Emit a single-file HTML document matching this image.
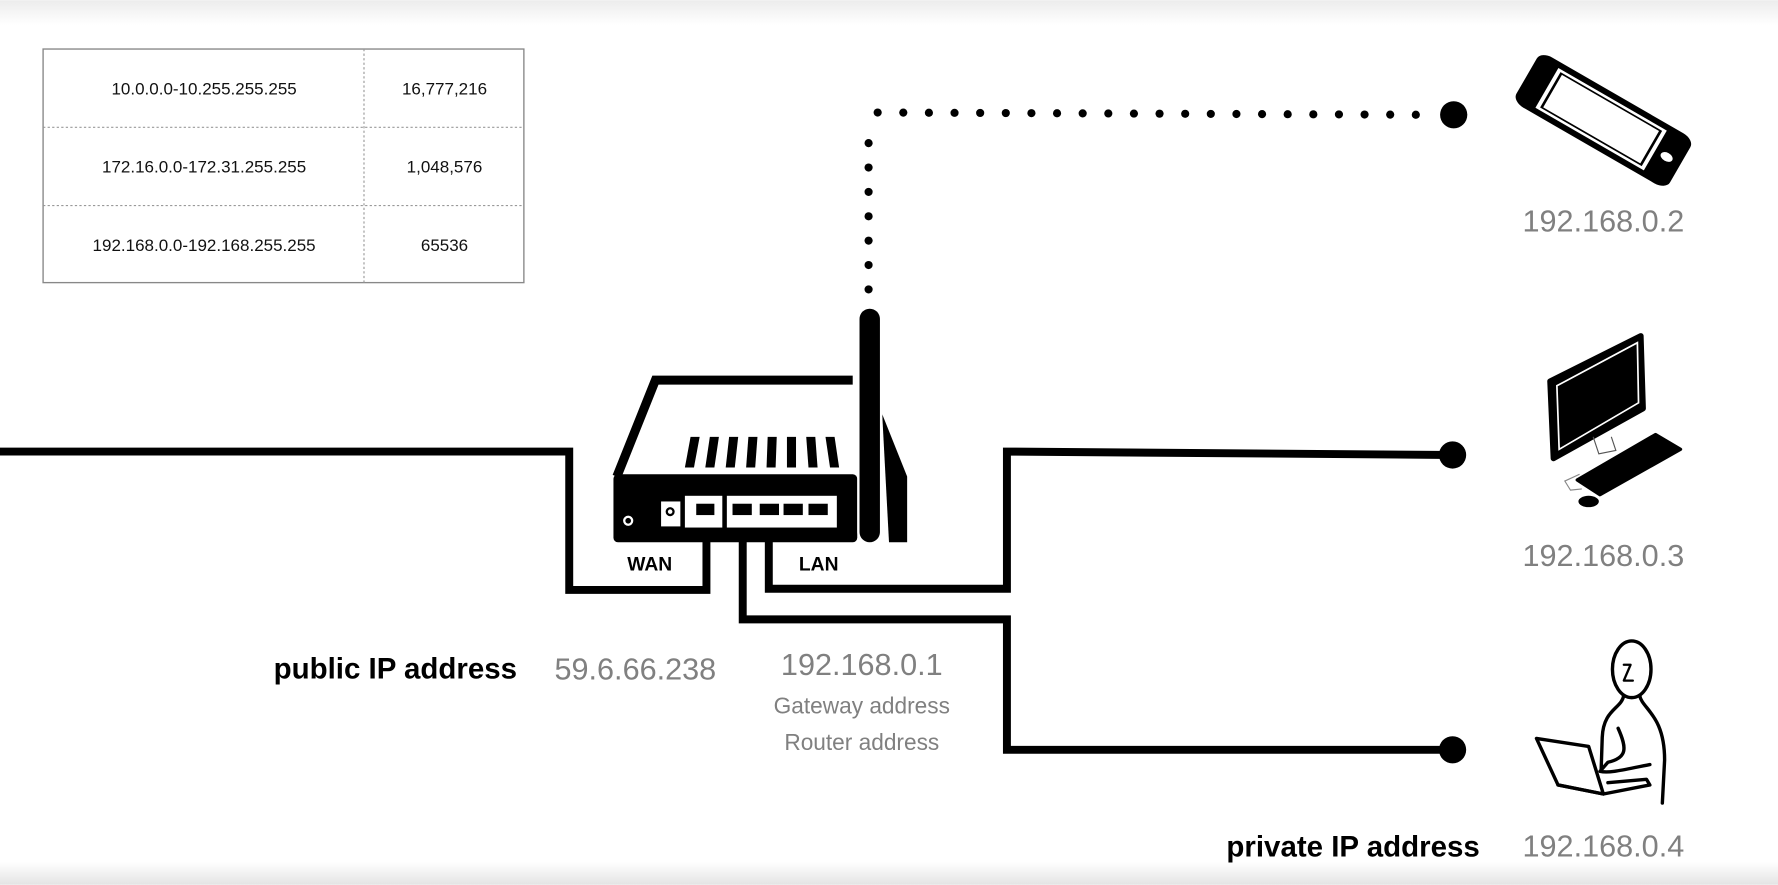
<!DOCTYPE html>
<html><head><meta charset="utf-8"><style>
html,body{margin:0;padding:0;background:#fff}
svg{display:block}
text{font-family:"Liberation Sans",sans-serif}
.ip{fill:#808080;font-size:27px}
</style></head><body>
<svg width="1778" height="885" viewBox="0 0 1568 780" xmlns="http://www.w3.org/2000/svg">
<defs>
<linearGradient id="tg" x1="0" y1="0" x2="0" y2="1"><stop offset="0" stop-color="#ececec"/><stop offset="1" stop-color="#fff"/></linearGradient>
<linearGradient id="bg" x1="0" y1="0" x2="0" y2="1"><stop offset="0" stop-color="#fff"/><stop offset="1" stop-color="#e4e4e4"/></linearGradient>
</defs>
<rect width="1568" height="780" fill="#fff"/>
<rect width="1568" height="22" fill="url(#tg)"/>
<rect y="760" width="1568" height="20" fill="url(#bg)"/>

<g>
<rect x="38" y="43" width="424" height="206" fill="#fff" stroke="#888" stroke-width="1.2"/>
<line x1="321" y1="43" x2="321" y2="249" stroke="#999" stroke-dasharray="2,2"/>
<line x1="38" y1="112" x2="462" y2="112" stroke="#999" stroke-dasharray="2,2"/>
<line x1="38" y1="181" x2="462" y2="181" stroke="#999" stroke-dasharray="2,2"/>
<g font-size="15" fill="#111" text-anchor="middle">
<text x="180" y="83">10.0.0.0-10.255.255.255</text><text x="392" y="83">16,777,216</text>
<text x="180" y="152">172.16.0.0-172.31.255.255</text><text x="392" y="152">1,048,576</text>
<text x="180" y="221">192.168.0.0-192.168.255.255</text><text x="392" y="221">65536</text>
</g></g>

<g fill="#000">
<script>
var g=document.currentScript.parentNode,ns="http://www.w3.org/2000/svg";
for(var y=255;y>=105;y-=21.5){var c=document.createElementNS(ns,"circle");c.setAttribute("cx",766);c.setAttribute("cy",y);c.setAttribute("r",3.6);g.appendChild(c);}
for(var x=774;x<=1260;x+=22.6){var c=document.createElementNS(ns,"circle");c.setAttribute("cx",x);c.setAttribute("cy",99+(x-774)/486*2);c.setAttribute("r",3.6);g.appendChild(c);}
</script>
<circle cx="1282" cy="101" r="12"/>
</g>

<g fill="none" stroke="#000" stroke-width="7" stroke-linejoin="miter">
<polyline points="0,398 502,398 502,520 623,520 623,455"/>
<polyline points="678,455 678,519 888,519 888,398 1280,401"/>
<polyline points="655,455 655,546 888,546 888,661 1280,661"/>
</g>
<circle cx="1281" cy="401" r="12"/>
<circle cx="1281" cy="661" r="12"/>

<g>
<path d="M752,335 L578,335 L544,420" fill="none" stroke="#000" stroke-width="8"/>
<path d="M778,365 L800,420 L800,478 L784,478 Z" fill="#000"/>
<rect x="541" y="418" width="215" height="60" rx="4" fill="#000"/>
<g fill="#000">
<polygon points="609,385 617,385 612,412 604,412"/><polygon points="626,385 634,385 630,412 622,412"/>
<polygon points="643,385 651,385 648,412 640,412"/><polygon points="660,385 668,385 666,412 658,412"/>
<polygon points="677,385 685,385 684,412 676,412"/><polygon points="694,385 702,385 702,412 694,412"/>
<polygon points="711,385 719,385 721,412 713,412"/><polygon points="728,385 736,385 740,412 732,412"/>
</g>
<circle cx="554" cy="459" r="3.5" fill="none" stroke="#fff" stroke-width="2"/>
<rect x="583" y="442" width="17" height="22" fill="#fff"/><circle cx="591" cy="451" r="3" fill="none" stroke="#000" stroke-width="2"/>
<rect x="604" y="437" width="33" height="28" fill="#fff"/>
<rect x="641" y="437" width="97" height="28" fill="#fff"/>
<g fill="#000"><rect x="614" y="444" width="16" height="10"/><rect x="646" y="444" width="17" height="10"/><rect x="670" y="444" width="17" height="10"/><rect x="691" y="444" width="17" height="10"/><rect x="713" y="444" width="17" height="10"/></g>
<rect x="756" y="270" width="22" height="210" rx="11" fill="#fff"/>
<rect x="758" y="272" width="18" height="206" rx="9" fill="#000"/>
<text x="573" y="503" font-size="17" font-weight="bold" text-anchor="middle">WAN</text>
<text x="722" y="503" font-size="17" font-weight="bold" text-anchor="middle">LAN</text>
</g>

<g transform="translate(1414,106) rotate(-60) scale(0.75,1.15)">
<rect x="-34" y="-68" width="68" height="136" rx="10" fill="#000"/>
<rect x="-27" y="-50" width="54" height="96" fill="#fff"/>
<rect x="-23" y="-46" width="46" height="88" fill="#fff" stroke="#000" stroke-width="2"/>
<circle cx="0" cy="56" r="5" fill="#fff"/>
</g>

<g>
<polygon points="1367,336 1447,296 1449,360 1370,404" fill="#000" stroke="#000" stroke-width="5" stroke-linejoin="round"/>
<polygon points="1373,340 1444,302 1445,355 1375,396" fill="#000" stroke="#fff" stroke-width="1.5"/>
<path d="M1405,385 L1410,400 L1425,397 L1421,385" fill="none" stroke="#555" stroke-width="1"/>
<polygon points="1391,423 1460,383 1482,396 1411,436" fill="#000" stroke="#000" stroke-width="3" stroke-linejoin="round"/>
<ellipse cx="1401" cy="442" rx="9" ry="5" fill="#000"/>
<path d="M1393,418 L1380,424 L1385,432 L1395,431" fill="none" stroke="#888" stroke-width="1"/>
</g>

<g fill="none" stroke="#000" stroke-width="3" stroke-linecap="round" stroke-linejoin="round">
<ellipse cx="1439" cy="590" rx="17" ry="25"/>
<path d="M1432,586 L1438,586 L1432,600 L1440,600" stroke-width="2"/>
<path d="M1432,613 C1430,625 1414,625 1413,650 L1412,680"/>
<path d="M1446,613 C1448,625 1468,630 1468,670 L1466,708"/>
<path d="M1427,642 C1435,660 1435,668 1418,672 L1411,680 C1420,682 1434,678 1455,674"/>
<polygon points="1355,651 1401,658 1414,700 1374,692"/>
<path d="M1374,692 L1414,700 L1455,692 L1452,687 L1418,690"/>
</g>

<g>
<text x="1414" y="204" class="ip" text-anchor="middle">192.168.0.2</text>
<text x="1414" y="499" class="ip" text-anchor="middle">192.168.0.3</text>
<text x="1414" y="755" class="ip" text-anchor="middle">192.168.0.4</text>
<text x="456" y="598" font-size="26" font-weight="bold" text-anchor="end">public IP address</text>
<text x="489" y="599" class="ip">59.6.66.238</text>
<text x="760" y="595" class="ip" text-anchor="middle">192.168.0.1</text>
<text x="760" y="629" font-size="20" fill="#808080" text-anchor="middle">Gateway address</text>
<text x="760" y="661" font-size="20" fill="#808080" text-anchor="middle">Router address</text>
<text x="1305" y="755" font-size="26" font-weight="bold" text-anchor="end">private IP address</text>
</g>
</svg>
</body></html>
